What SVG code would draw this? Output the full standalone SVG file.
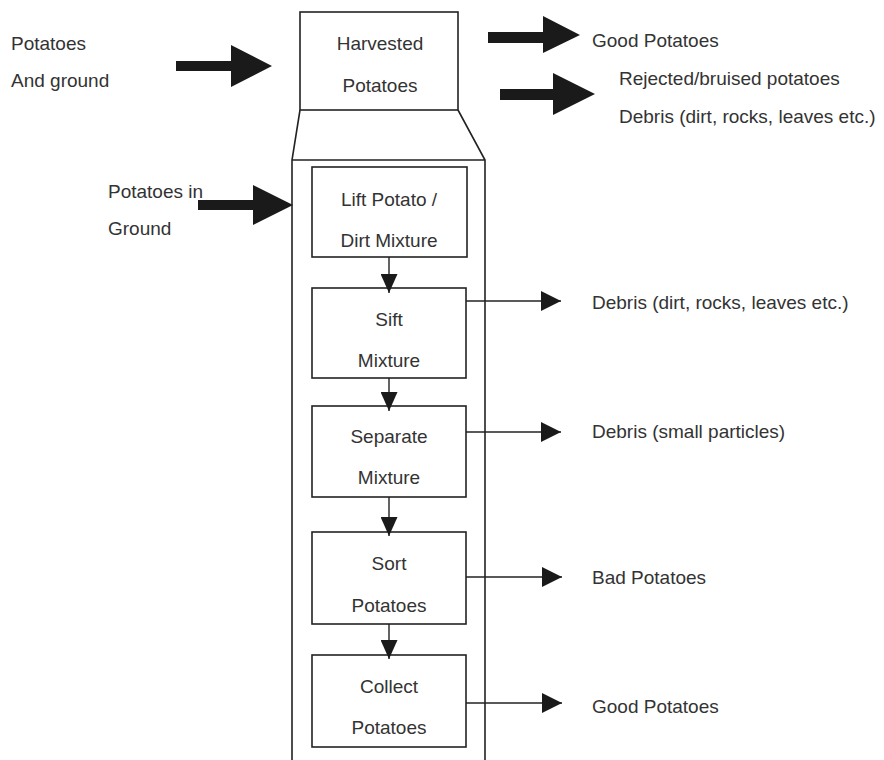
<svg xmlns="http://www.w3.org/2000/svg" width="884" height="760" viewBox="0 0 884 760">
  <style>
    text { font-family: "Liberation Sans", Arial, sans-serif; font-size: 19px; fill: #333; }
    .c { text-anchor: middle; }
    .box { fill: none; stroke: #222; stroke-width: 1.6; }
    .wire { fill: none; stroke: #222; stroke-width: 1.4; }
    .big { fill: #1a1a1a; }
  </style>
  <defs>
    <marker id="tri" viewBox="0 0 20 20" refX="20" refY="10" markerWidth="20" markerHeight="20" markerUnits="userSpaceOnUse" orient="auto">
      <path d="M0,0 L20,10 L0,20 Z" fill="#1a1a1a"/>
    </marker>
    <marker id="down" viewBox="0 0 19 17" refX="19" refY="8.5" markerWidth="19" markerHeight="17" markerUnits="userSpaceOnUse" orient="auto">
      <path d="M0,0 L19,8.5 L0,17 Z" fill="#1a1a1a"/>
    </marker>
  </defs>
  <rect width="884" height="760" fill="#fff"/>

  <!-- harvester housing: hopper, throat and long body -->
  <g id="harvester">
    <rect class="box" x="300" y="12" width="158" height="98"/>
    <path class="box" d="M300,110 L292,160 L292,762 M458,110 L485,160 L485,762 M292,160 L485,160"/>
    <text class="c" x="380" y="50">Harvested</text>
    <text class="c" x="380" y="92">Potatoes</text>
  </g>

  <!-- process steps -->
  <g id="lift">
    <rect class="box" x="312" y="167" width="155" height="90"/>
    <text class="c" x="389" y="206">Lift Potato /</text>
    <text class="c" x="389" y="247">Dirt Mixture</text>
  </g>
  <g id="sift">
    <rect class="box" x="312" y="288" width="154" height="90"/>
    <text class="c" x="389" y="326">Sift</text>
    <text class="c" x="389" y="367">Mixture</text>
  </g>
  <g id="separate">
    <rect class="box" x="312" y="406" width="154" height="91"/>
    <text class="c" x="389" y="443">Separate</text>
    <text class="c" x="389" y="484">Mixture</text>
  </g>
  <g id="sort">
    <rect class="box" x="312" y="532" width="154" height="92"/>
    <text class="c" x="389" y="570">Sort</text>
    <text class="c" x="389" y="612">Potatoes</text>
  </g>
  <g id="collect">
    <rect class="box" x="312" y="655" width="154" height="92"/>
    <text class="c" x="389" y="693">Collect</text>
    <text class="c" x="389" y="734">Potatoes</text>
  </g>

  <!-- inputs and outputs -->
  <g id="in-ground-left">
    <text x="11" y="50">Potatoes</text>
    <text x="11" y="87">And ground</text>
  </g>
  <g id="in-ground-lift">
    <text x="108" y="198">Potatoes in</text>
    <text x="108" y="235">Ground</text>
  </g>
  <g id="out-top">
    <text x="592" y="47">Good Potatoes</text>
    <text x="619" y="85">Rejected/bruised potatoes</text>
    <text x="619" y="123">Debris (dirt, rocks, leaves etc.)</text>
  </g>
  <g id="out-debris">
    <text x="592" y="309">Debris (dirt, rocks, leaves etc.)</text>
  </g>
  <g id="out-particles">
    <text x="592" y="438">Debris (small particles)</text>
  </g>
  <g id="out-bad">
    <text x="592" y="584">Bad Potatoes</text>
  </g>
  <g id="out-good">
    <text x="592" y="713">Good Potatoes</text>
  </g>

  <g id="connectors">
    <!-- heavy block arrows -->
    <path class="big" d="M176,61 L231,61 L231,45 L272,66 L231,87 L231,71 L176,71 Z"/>
    <path class="big" d="M488,32 L543,32 L543,16 L580,35 L543,53 L543,43 L488,43 Z"/>
    <path class="big" d="M500,89 L553,89 L553,73 L595,94 L553,115 L553,100 L500,100 Z"/>
    <path class="big" d="M198,200 L253,200 L253,185 L293,205 L253,225 L253,210 L198,210 Z"/>
    <!-- step to step -->
    <line class="wire" x1="389" y1="257" x2="389" y2="293" marker-end="url(#down)"/>
    <line class="wire" x1="389" y1="378" x2="389" y2="411" marker-end="url(#down)"/>
    <line class="wire" x1="389" y1="497" x2="389" y2="536" marker-end="url(#down)"/>
    <line class="wire" x1="389" y1="624" x2="389" y2="659" marker-end="url(#down)"/>
    <!-- side outputs -->
    <line class="wire" x1="466" y1="301" x2="561" y2="301" marker-end="url(#tri)"/>
    <line class="wire" x1="466" y1="432" x2="561" y2="432" marker-end="url(#tri)"/>
    <line class="wire" x1="466" y1="577" x2="562" y2="577" marker-end="url(#tri)"/>
    <line class="wire" x1="466" y1="703" x2="562" y2="703" marker-end="url(#tri)"/>
  </g>
</svg>
